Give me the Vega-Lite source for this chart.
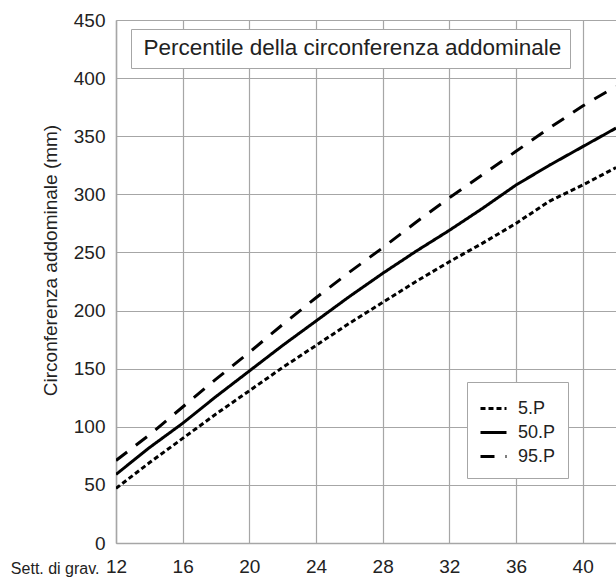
{
  "$schema": "https://vega.github.io/schema/vega-lite/v6.json",
  "width": 500,
  "height": 523,
  "autosize": "none",
  "padding": {"left": 116, "top": 20, "right": 0, "bottom": 34},
  "background": "white",
  "config": {"view": {"stroke": null}, "font": "Liberation Sans"},
  "data": {
    "values": [
      {"week": 12, "p": "5.P", "value": 47},
      {"week": 14, "p": "5.P", "value": 69},
      {"week": 16, "p": "5.P", "value": 90},
      {"week": 18, "p": "5.P", "value": 111},
      {"week": 20, "p": "5.P", "value": 131},
      {"week": 22, "p": "5.P", "value": 151},
      {"week": 24, "p": "5.P", "value": 170},
      {"week": 26, "p": "5.P", "value": 189},
      {"week": 28, "p": "5.P", "value": 207},
      {"week": 30, "p": "5.P", "value": 225},
      {"week": 32, "p": "5.P", "value": 242},
      {"week": 34, "p": "5.P", "value": 258},
      {"week": 36, "p": "5.P", "value": 275},
      {"week": 38, "p": "5.P", "value": 294},
      {"week": 40, "p": "5.P", "value": 308},
      {"week": 42, "p": "5.P", "value": 323},
      {"week": 12, "p": "50.P", "value": 59},
      {"week": 14, "p": "50.P", "value": 82},
      {"week": 16, "p": "50.P", "value": 103},
      {"week": 18, "p": "50.P", "value": 126},
      {"week": 20, "p": "50.P", "value": 148},
      {"week": 22, "p": "50.P", "value": 170},
      {"week": 24, "p": "50.P", "value": 191},
      {"week": 26, "p": "50.P", "value": 212},
      {"week": 28, "p": "50.P", "value": 232},
      {"week": 30, "p": "50.P", "value": 251},
      {"week": 32, "p": "50.P", "value": 269},
      {"week": 34, "p": "50.P", "value": 288},
      {"week": 36, "p": "50.P", "value": 308},
      {"week": 38, "p": "50.P", "value": 325},
      {"week": 40, "p": "50.P", "value": 341},
      {"week": 42, "p": "50.P", "value": 357},
      {"week": 12, "p": "95.P", "value": 71},
      {"week": 14, "p": "95.P", "value": 93},
      {"week": 16, "p": "95.P", "value": 117},
      {"week": 18, "p": "95.P", "value": 141},
      {"week": 20, "p": "95.P", "value": 164},
      {"week": 22, "p": "95.P", "value": 188},
      {"week": 24, "p": "95.P", "value": 211},
      {"week": 26, "p": "95.P", "value": 233},
      {"week": 28, "p": "95.P", "value": 254},
      {"week": 30, "p": "95.P", "value": 276},
      {"week": 32, "p": "95.P", "value": 297},
      {"week": 34, "p": "95.P", "value": 317},
      {"week": 36, "p": "95.P", "value": 337},
      {"week": 38, "p": "95.P", "value": 357},
      {"week": 40, "p": "95.P", "value": 376},
      {"week": 42, "p": "95.P", "value": 393}
    ]
  },
  "layer": [
    {
      "mark": {"type": "line", "strokeWidth": 3, "color": "black", "clip": true},
      "encoding": {
        "x": {
          "field": "week", "type": "quantitative",
          "scale": {"domain": [12, 42], "nice": false, "zero": false},
          "axis": {
            "values": [12, 16, 20, 24, 28, 32, 36, 40],
            "grid": true, "gridColor": "#a6a6a6", "gridWidth": 1.2,
            "domainColor": "#a6a6a6", "domainWidth": 1.5,
            "ticks": false, "labelFlush": false,
            "labelFontSize": 19, "labelColor": "#222", "labelPadding": 14,
            "title": "Sett. di grav.",
            "titleFontSize": 16, "titleFontWeight": "normal", "titleColor": "#222",
            "titleAlign": "right", "titleBaseline": "alphabetic",
            "titleX": -17, "titleY": 30
          }
        },
        "y": {
          "field": "value", "type": "quantitative",
          "scale": {"domain": [0, 450], "nice": false},
          "axis": {
            "values": [0, 50, 100, 150, 200, 250, 300, 350, 400, 450],
            "grid": true, "gridColor": "#a6a6a6", "gridWidth": 1.2,
            "domainColor": "#a6a6a6", "domainWidth": 1.5,
            "ticks": false, "labelFlush": false,
            "labelFontSize": 19, "labelColor": "#222", "labelPadding": 11,
            "title": "Circonferenza addominale (mm)",
            "titleFontSize": 19, "titleFontWeight": "normal", "titleColor": "#222",
            "titleX": -56, "titleY": 240
          }
        },
        "strokeDash": {
          "field": "p", "type": "nominal",
          "scale": {"domain": ["5.P", "50.P", "95.P"], "range": [[5, 3], [1, 0], [14, 11]]},
          "legend": {
            "orient": "none", "legendX": 351, "legendY": 362,
            "title": null,
            "fillColor": "white", "strokeColor": "#a6a6a6", "padding": 12,
            "symbolType": "stroke", "symbolSize": 676, "symbolStrokeWidth": 3,
            "symbolStrokeColor": "black",
            "labelFontSize": 18, "labelColor": "#222", "labelOffset": 10,
            "rowPadding": 0
          }
        }
      }
    },
    {
      "mark": {"type": "point", "opacity": 0},
      "encoding": {
        "x": {"field": "week", "type": "quantitative"},
        "y": {"field": "value", "type": "quantitative"},
        "color": {
          "datum": "Percentile della circonferenza addominale", "type": "nominal",
          "legend": {
            "orient": "none", "legendX": 15, "legendY": 9,
            "title": null,
            "fillColor": "white", "strokeColor": "#a6a6a6", "padding": 8,
            "symbolSize": 1, "symbolOpacity": 0, "labelOffset": -18,
            "labelFontSize": 22.5, "labelColor": "#222", "labelLimit": 800
          }
        }
      }
    }
  ]
}
